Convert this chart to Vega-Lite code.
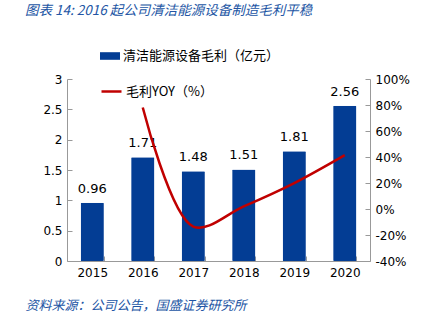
{
  "$schema": "https://vega.github.io/schema/vega-lite/v6.json",
  "width": 303,
  "height": 182,
  "autosize": "none",
  "padding": {"left": 67, "top": 79, "right": 72, "bottom": 65},
  "background": "white",
  "config": {
    "view": {"stroke": null},
    "font": "DejaVu Sans",
    "axis": {"grid": false, "domainColor": "#999999", "tickColor": "#999999", "labelColor": "#000000", "labelFontSize": 12, "labelFont": "DejaVu Sans"}
  },
  "title": {
    "text": "图表 14:  2016 起公司清洁能源设备制造毛利平稳",
    "anchor": "start",
    "frame": "group",
    "offset": 29,
    "dx": -42,
    "fontSize": 13.5,
    "fontStyle": "italic",
    "fontWeight": "normal",
    "font": "Noto Sans CJK SC",
    "color": "#2255a4"
  },
  "data": {
    "values": [
      {"year": "2015", "profit": 0.96, "yoy": null},
      {"year": "2016", "profit": 1.71, "yoy": 78.1},
      {"year": "2017", "profit": 1.48, "yoy": -13.5},
      {"year": "2018", "profit": 1.51, "yoy": 2.0},
      {"year": "2019", "profit": 1.81, "yoy": 19.9},
      {"year": "2020", "profit": 2.56, "yoy": 41.4}
    ]
  },
  "encoding": {
    "x": {
      "field": "year",
      "type": "ordinal",
      "scale": {"paddingInner": 0.54, "paddingOuter": 0.27},
      "axis": {
        "labelAngle": 0,
        "tickSize": -5,
        "tickBand": "extent",
        "labelPadding": 11,
        "title": "资料来源：公司公告，国盛证券研究所",
        "titleFont": "Noto Sans CJK SC",
        "titleFontSize": 13,
        "titleFontStyle": "italic",
        "titleFontWeight": "normal",
        "titleColor": "#2255a4",
        "titleAnchor": "start",
        "titleAlign": "left",
        "titleBaseline": "middle",
        "titleX": -42,
        "titleY": 44
      }
    }
  },
  "layer": [
    {
      "mark": {"type": "bar", "cornerRadius": 1},
      "encoding": {
        "y": {
          "field": "profit",
          "type": "quantitative",
          "scale": {"domain": [0, 3]},
          "axis": {"title": null, "values": [0, 0.5, 1, 1.5, 2, 2.5, 3], "format": "~g", "tickSize": -5, "labelPadding": 10}
        },
        "fill": {
          "datum": "清洁能源设备毛利（亿元）",
          "type": "nominal",
          "scale": {"range": ["#033d94"]},
          "legend": {
            "title": null,
            "orient": "none",
            "legendX": 33,
            "legendY": -33,
            "symbolType": "M-1,-0.38H1V0.38H-1Z",
            "symbolSize": 400,
            "symbolStrokeWidth": 0,
            "labelFont": "Noto Sans CJK SC",
            "labelFontSize": 13,
            "labelOffset": 3,
            "labelColor": "#000000"
          }
        }
      }
    },
    {
      "mark": {"type": "text", "dy": -14, "fontSize": 13, "font": "DejaVu Sans", "color": "#000000"},
      "encoding": {
        "y": {"field": "profit", "type": "quantitative", "scale": {"domain": [0, 3]}, "axis": null},
        "text": {"field": "profit", "type": "quantitative", "format": ".2f"}
      }
    },
    {
      "transform": [{"filter": "datum.yoy != null"}],
      "mark": {"type": "line", "interpolate": "catmull-rom", "strokeWidth": 2.5},
      "encoding": {
        "y": {
          "field": "yoy",
          "type": "quantitative",
          "scale": {"domain": [-40, 100]},
          "axis": {"orient": "right", "title": null, "values": [-40, -20, 0, 20, 40, 60, 80, 100], "labelExpr": "datum.value + '%'", "tickSize": -5, "labelPadding": 10}
        },
        "stroke": {
          "datum": "毛利YOY（%）",
          "type": "nominal",
          "scale": {"range": ["#c00000"]},
          "legend": {
            "title": null,
            "orient": "none",
            "legendX": 33,
            "legendY": 1,
            "symbolType": "stroke",
            "symbolStrokeWidth": 2.5,
            "symbolSize": 400,
            "labelFont": "Noto Sans CJK SC",
            "labelFontSize": 13,
            "labelOffset": 3,
            "labelColor": "#000000"
          }
        }
      }
    }
  ],
  "resolve": {"scale": {"y": "independent", "fill": "independent", "stroke": "independent"}}
}
